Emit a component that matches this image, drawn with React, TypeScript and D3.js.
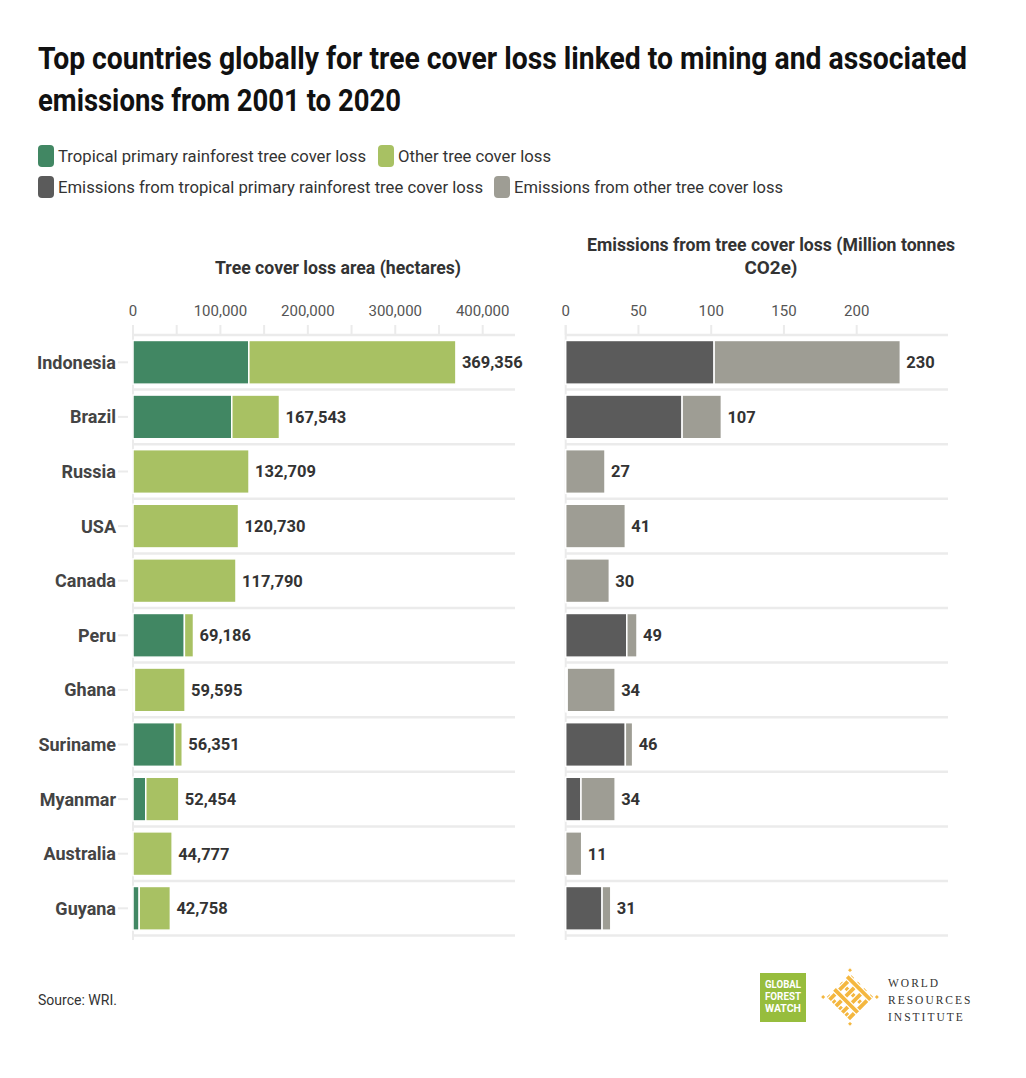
import React from "react";
import * as d3 from "d3";

const countries = ["Indonesia", "Brazil", "Russia", "USA", "Canada", "Peru", "Ghana", "Suriname", "Myanmar", "Australia", "Guyana"];
const primaryLoss = [132500, 113000, 0, 0, 0, 58800, 1600, 47600, 14600, 0, 7100];
const totalLoss = [369356, 167543, 132709, 120730, 117790, 69186, 59595, 56351, 52454, 44777, 42758];
const primaryEmissions = [102, 80, 0, 0, 0, 42, 1, 41, 10.5, 0, 25];
const totalEmissions = [230, 107, 27, 41, 30, 49, 34, 46, 34, 11, 31];
const lossTicks = [0, 100000, 200000, 300000, 400000];
const lossMinorTicks = [0, 50000, 100000, 150000, 200000, 250000, 300000, 350000, 400000];
const emTicks = [0, 50, 100, 150, 200];

const legendItems = [
  { label: "Tropical primary rainforest tree cover loss", color: "#418763", row: 0 },
  { label: "Other tree cover loss", color: "#A8C163", row: 0 },
  { label: "Emissions from tropical primary rainforest tree cover loss", color: "#5B5B5B", row: 1 },
  { label: "Emissions from other tree cover loss", color: "#9E9D94", row: 1 },
];

const FONT = "Roboto, 'Noto Sans', sans-serif";
const C_PRIMARY = "#418763";
const C_OTHER = "#A8C163";
const C_EPRIMARY = "#5B5B5B";
const C_EOTHER = "#9E9D94";
const GRID = "#EBEBEB";

export default function App() {
  const W = 1026, H = 1078;
  const y = d3.scaleBand<string>().domain(countries).range([335, 935.6]).paddingInner(0.2).paddingOuter(0.1);
  const xL = d3.scaleLinear().domain([0, 400000]).range([133, 482.7]);
  const xR = d3.scaleLinear().domain([0, 200]).range([565.7, 856.7]);
  const fmt = d3.format(",");
  const step = y.step();
  const bandTop = (c: string) => (y(c) as number) - step * 0.1;

  const legendPos = [38, 378, 38, 494];
  const legendLen = [308, 153, 425, 269];

  const panel = (
    xs: d3.ScaleLinear<number, number>,
    ticks: number[],
    minor: number[],
    gridEnd: number,
    prim: number[],
    tot: number[],
    cP: string,
    cO: string,
    tf: (v: number) => string,
    lf: (v: number) => string
  ) => {
    const x0 = xs(0);
    const last = countries[countries.length - 1];
    return (
      <g>
        {minor.map((t) => (
          <line key={"m" + t} x1={xs(t)} x2={xs(t)} y1={325} y2={335} stroke={GRID} strokeWidth={2} />
        ))}
        {ticks.map((t) => (
          <text key={"t" + t} x={xs(t)} y={316} textAnchor="middle" fontFamily={FONT} fontSize={15} fill="#555">
            {tf(t)}
          </text>
        ))}
        {countries.map((c) => (
          <line key={"g" + c} x1={x0} x2={gridEnd} y1={bandTop(c)} y2={bandTop(c)} stroke={GRID} strokeWidth={2.5} />
        ))}
        <line x1={x0} x2={gridEnd} y1={bandTop(last) + step} y2={bandTop(last) + step} stroke={GRID} strokeWidth={2.5} />
        <line x1={x0} x2={x0} y1={325} y2={940} stroke={GRID} strokeWidth={2} />
        {countries.map((c, i) => {
          const yy = y(c) as number;
          const bh = y.bandwidth();
          return (
            <g key={"b" + c}>
              {prim[i] > 0 && (
                <rect x={x0} y={yy} width={xs(prim[i]) - x0} height={bh} fill={cP} stroke="#fff" strokeWidth={1.5} />
              )}
              <rect x={xs(prim[i])} y={yy} width={xs(tot[i]) - xs(prim[i])} height={bh} fill={cO} stroke="#fff" strokeWidth={1.5} />
              <text x={xs(tot[i]) + 6} y={yy + bh / 2} dy="0.36em" fontFamily={FONT} fontWeight="bold" fontSize={16.5} fill="#333">
                {lf(tot[i])}
              </text>
            </g>
          );
        })}
      </g>
    );
  };

  // knot bands
  const bandOffsets = [-15, -6, 3, 12];

  return (
    <div style={{ position: "absolute", left: 0, top: 0, width: W, height: H, background: "#fff" }}>
      <svg width={W} height={H} style={{ display: "block" }}>
        <rect width={W} height={H} fill="#fff" />
        <text x={38} y={69} fontFamily={FONT} fontWeight="bold" fontSize={32} fill="#111" textLength={929} lengthAdjust="spacingAndGlyphs">
          Top countries globally for tree cover loss linked to mining and associated
        </text>
        <text x={38} y={111} fontFamily={FONT} fontWeight="bold" fontSize={32} fill="#111" textLength={363} lengthAdjust="spacingAndGlyphs">
          emissions from 2001 to 2020
        </text>

        {legendItems.map((it, i) => {
          const lx = legendPos[i];
          const ly = it.row === 0 ? 145 : 176;
          return (
            <g key={it.label}>
              <rect x={lx} y={ly} width={16} height={22} rx={4} fill={it.color} />
              <text x={lx + 20} y={ly + 11} dy="0.36em" fontFamily={FONT} fontSize={17} fill="#333" textLength={legendLen[i]} lengthAdjust="spacingAndGlyphs">
                {it.label}
              </text>
            </g>
          );
        })}

        <text x={215} y={274} fontFamily={FONT} fontWeight="bold" fontSize={17.5} fill="#333" textLength={246} lengthAdjust="spacingAndGlyphs">
          Tree cover loss area (hectares)
        </text>
        <text x={587} y={251} fontFamily={FONT} fontWeight="bold" fontSize={17.5} fill="#333" textLength={368} lengthAdjust="spacingAndGlyphs">
          Emissions from tree cover loss (Million tonnes
        </text>
        <text x={771} y={274} textAnchor="middle" fontFamily={FONT} fontWeight="bold" fontSize={17.5} fill="#333" textLength={53} lengthAdjust="spacingAndGlyphs">
          CO2e)
        </text>

        {countries.map((c) => {
          const cy = (y(c) as number) + y.bandwidth() / 2;
          return (
            <g key={"l" + c}>
              <line x1={118} x2={128} y1={cy} y2={cy} stroke={GRID} strokeWidth={2} />
              <text x={116} y={cy} dy="0.36em" textAnchor="end" fontFamily={FONT} fontWeight="bold" fontSize={18} fill="#444">
                {c}
              </text>
            </g>
          );
        })}

        {panel(xL, lossTicks, lossMinorTicks, 515, primaryLoss, totalLoss, C_PRIMARY, C_OTHER, (v) => fmt(v), (v) => fmt(v))}
        {panel(xR, emTicks, emTicks, 948, primaryEmissions, totalEmissions, C_EPRIMARY, C_EOTHER, (v) => String(v), (v) => String(v))}

        <text x={38} y={1005} fontFamily={FONT} fontSize={14} fill="#333" textLength={79} lengthAdjust="spacingAndGlyphs">
          Source: WRI.
        </text>

        {/* Global Forest Watch logo */}
        <rect x={760} y={973} width={46} height={49} fill="#97BD3D" />
        {["GLOBAL", "FOREST", "WATCH"].map((t, i) => (
          <text key={t} x={783} y={988 + i * 12} textAnchor="middle" fontFamily={FONT} fontWeight="bold" fontSize={10.5} fill="#fff" textLength={36} lengthAdjust="spacingAndGlyphs">
            {t}
          </text>
        ))}

        {/* WRI knot logo */}
        <g transform="translate(850,997) rotate(45)" fill="#F4B73F" stroke="#fff" strokeWidth={1.2}>
          {bandOffsets.map((o) => (
            <rect key={"h" + o} x={-17} y={o} width={34} height={5} />
          ))}
          {bandOffsets.map((o, k) => (
            <rect key={"v" + o} x={o} y={-17} width={5} height={34} />
          ))}
          {bandOffsets.filter((_, k) => k % 2 === 0).map((o) => (
            <rect key={"h2" + o} x={-17} y={o} width={34} height={5} />
          ))}
          <rect x={-21} y={-21} width={4} height={4} />
          <rect x={17} y={-21} width={4} height={4} />
          <rect x={-21} y={17} width={4} height={4} />
          <rect x={17} y={17} width={4} height={4} />
        </g>
        {["WORLD", "RESOURCES", "INSTITUTE"].map((t, i) => (
          <text key={t} x={888} y={987 + i * 17} fontFamily="'Liberation Serif', 'DejaVu Serif', serif" fontSize={11.5} letterSpacing={2} fill="#333">
            {t}
          </text>
        ))}
      </svg>
    </div>
  );
}
